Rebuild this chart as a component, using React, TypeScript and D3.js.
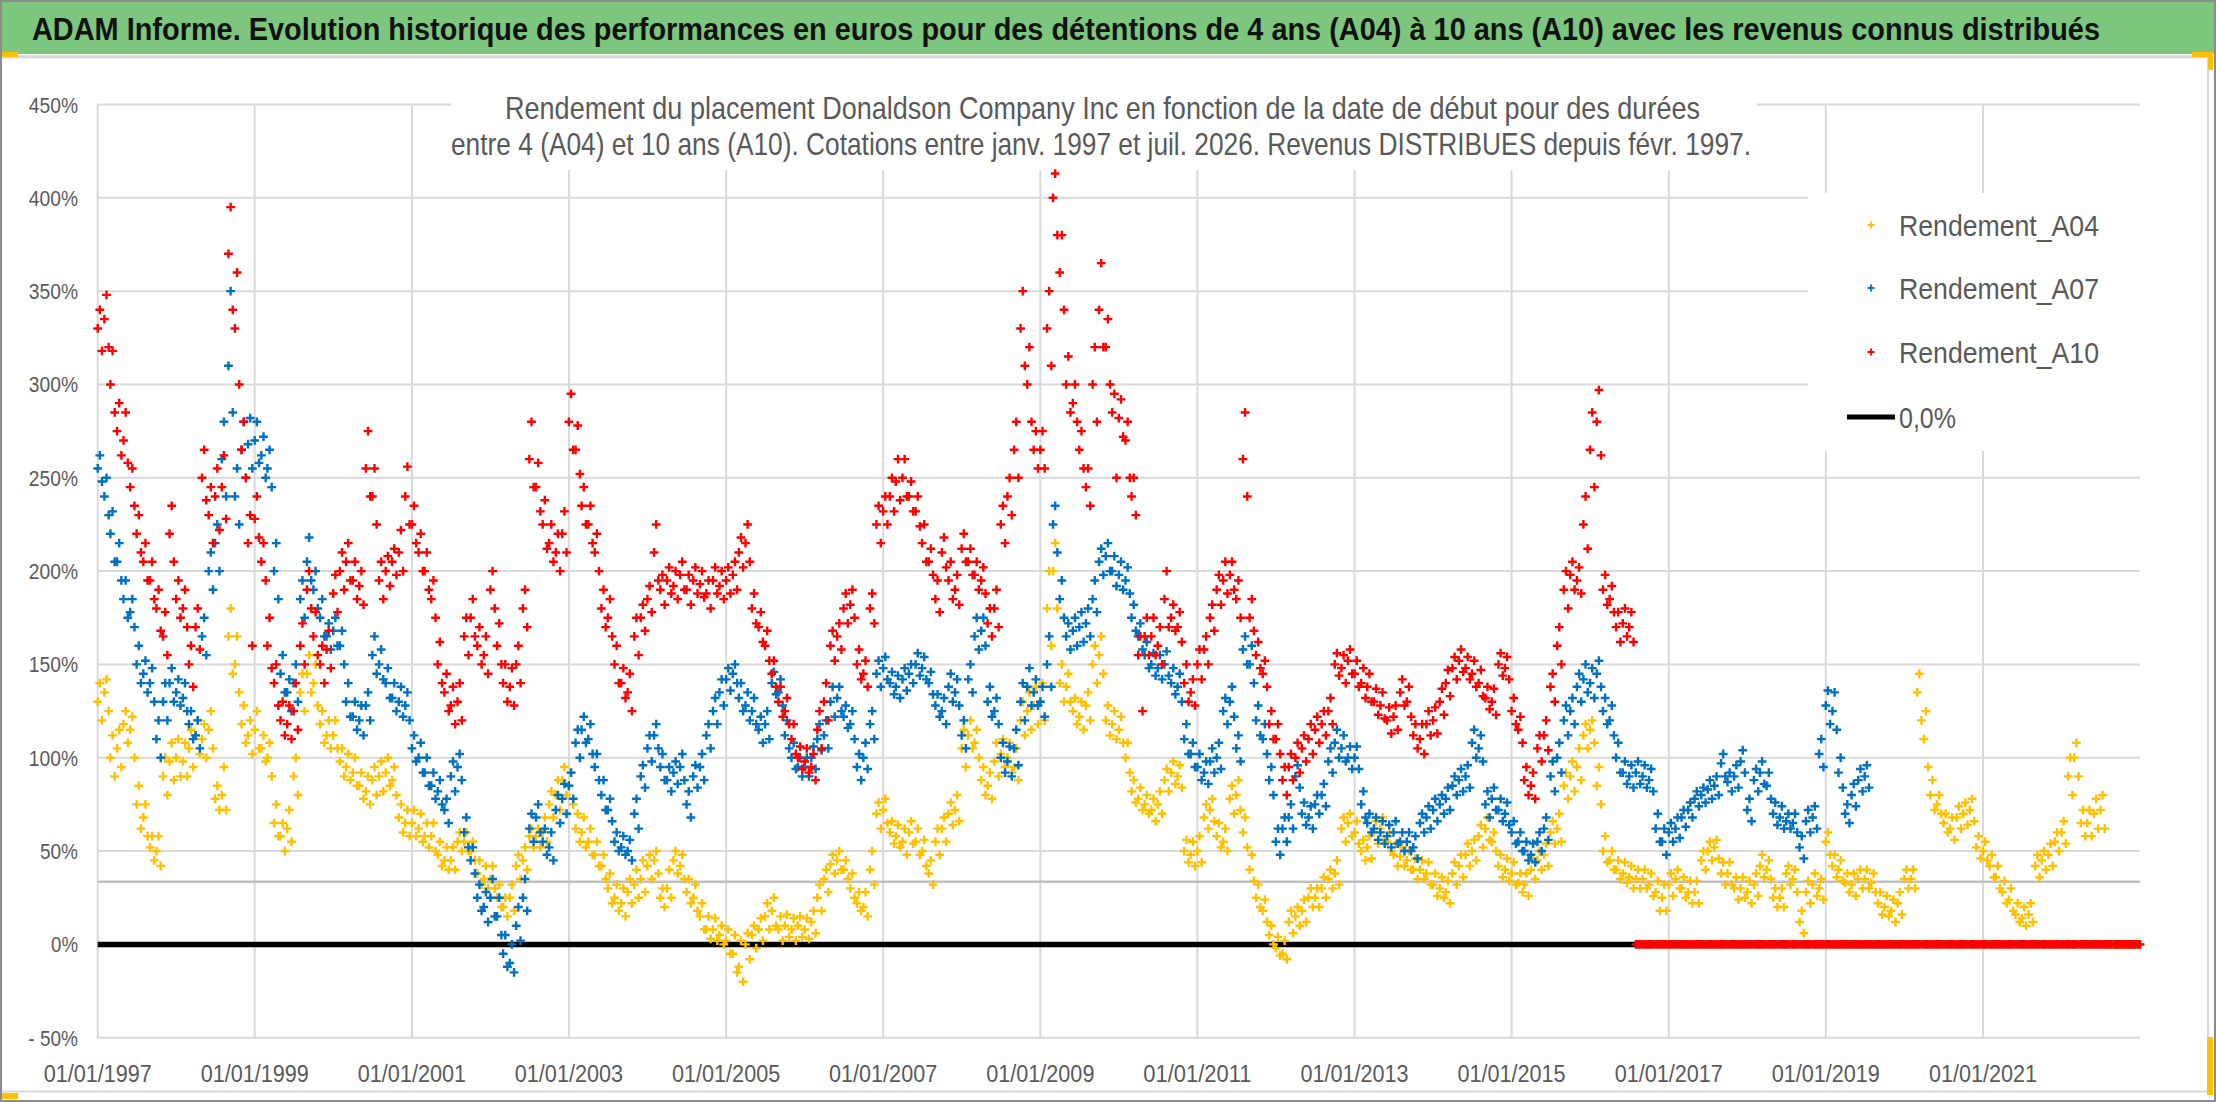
import React from 'react';
import * as d3 from 'd3';

// ---------- DATA (monthly readings, first value = January of START_YEAR) ----------
const START_YEAR = 1997;

// Rendement_A04 (yellow): typical level of the cloud each month
const a04Monthly: number[] = [
  130, 135, 100, 105, 118, 115, 75, 68, 52, 50, 90, 98, // 1997
  100, 98, 105, 112, 110, 115, 78, 80, 165, 150, 118, 112, // 1998
  115, 105, 100, 65, 58, 62, 90, 135, 145, 140, 118, 112, // 1999
  112, 98, 95, 92, 85, 82, 88, 90, 92, 88, 68, 65, // 2000
  65, 62, 58, 58, 48, 45, 45, 55, 55, 50, 38, 35, // 2001
  35, 25, 20, 25, 42, 45, 58, 58, 60, 75, 80, 88, // 2002
  85, 62, 60, 55, 48, 42, 30, 25, 22, 28, 32, 35, // 2003
  42, 45, 25, 30, 45, 42, 28, 25, 15, 8, 8, 5, // 2004
  2, -5, -12, 0, 5, 8, 15, 18, 8, 10, 8, 10, // 2005
  8, 12, 25, 35, 43, 45, 40, 30, 22, 20, 40, 70, // 2006
  72, 60, 58, 55, 60, 55, 50, 38, 55, 62, 70, 72, // 2007
  105, 112, 108, 88, 85, 98, 102, 100, 95, 120, 125, 128, // 2008
  130, 180, 200, 140, 138, 125, 122, 128, 150, 155, 120, 118, // 2009
  115, 100, 82, 78, 75, 72, 75, 88, 92, 90, 50, 48, // 2010
  50, 68, 72, 58, 55, 78, 80, 60, 40, 25, 18, 5, // 2011
  -2, -5, 12, 15, 18, 25, 25, 30, 35, 38, 62, 65, // 2012
  60, 50, 52, 60, 62, 55, 48, 47, 45, 40, 40, 38, // 2013
  32, 30, 28, 38, 42, 48, 50, 58, 62, 55, 42, 40, // 2014
  38, 33, 32, 40, 45, 48, 60, 62, 85, 90, 95, 112, // 2015
  115, 85, 50, 45, 40, 38, 36, 35, 35, 32, 28, 25, // 2016
  32, 35, 30, 28, 28, 45, 50, 52, 38, 38, 30, 30, // 2017
  28, 32, 42, 40, 25, 25, 38, 35, 12, 28, 32, 30, // 2018
  55, 42, 40, 33, 32, 35, 35, 33, 22, 20, 18, 22, // 2019
  35, 35, 135, 110, 80, 75, 65, 62, 68, 70, 72, 52, // 2020
  50, 42, 36, 28, 24, 16, 14, 16, 42, 45, 48, 55, // 2021
  60, 90, 100, 65, 65, 70, 72, 0, 0, 0, 0, 0, // 2022
  0, // 2023
];
// upper edge of the A04 cloud each month
const a04High: number[] = [
  140, 142, 112, 115, 125, 122, 85, 75, 58, 58, 100, 108, // 1997
  110, 108, 115, 120, 118, 125, 85, 95, 180, 165, 128, 120, // 1998
  125, 112, 108, 75, 65, 72, 100, 145, 155, 150, 125, 120, // 1999
  120, 105, 102, 100, 92, 90, 95, 98, 100, 95, 75, 72, // 2000
  72, 70, 65, 65, 55, 52, 52, 60, 60, 55, 45, 42, // 2001
  42, 32, 25, 32, 48, 52, 62, 62, 68, 82, 88, 95, // 2002
  92, 70, 68, 62, 55, 48, 38, 32, 30, 35, 40, 45, // 2003
  48, 50, 30, 40, 50, 48, 35, 32, 22, 15, 14, 10, // 2004
  8, 5, 2, 6, 10, 14, 22, 25, 15, 16, 14, 15, // 2005
  14, 18, 32, 40, 48, 50, 45, 38, 28, 28, 50, 76, // 2006
  78, 66, 64, 62, 66, 62, 56, 45, 62, 68, 76, 80, // 2007
  115, 120, 115, 95, 92, 108, 110, 108, 105, 130, 135, 138, // 2008
  140, 200, 215, 150, 145, 132, 130, 135, 160, 165, 128, 125, // 2009
  122, 108, 88, 84, 80, 78, 82, 94, 98, 96, 56, 55, // 2010
  58, 75, 78, 65, 62, 85, 88, 68, 48, 32, 24, 10, // 2011
  4, 2, 18, 20, 24, 30, 30, 36, 40, 45, 68, 70, // 2012
  66, 56, 58, 66, 68, 60, 54, 52, 50, 46, 45, 44, // 2013
  38, 36, 34, 44, 48, 54, 56, 64, 68, 60, 48, 46, // 2014
  44, 38, 38, 46, 50, 54, 66, 70, 92, 98, 105, 118, // 2015
  120, 95, 58, 50, 45, 44, 42, 40, 40, 38, 34, 32, // 2016
  38, 40, 36, 34, 34, 50, 55, 56, 44, 44, 36, 36, // 2017
  34, 38, 48, 45, 30, 30, 42, 40, 18, 34, 38, 35, // 2018
  60, 48, 45, 38, 38, 40, 40, 38, 28, 26, 24, 28, // 2019
  40, 40, 145, 125, 88, 80, 70, 68, 74, 76, 78, 58, // 2020
  55, 48, 42, 34, 30, 22, 20, 22, 48, 50, 54, 60, // 2021
  66, 100, 108, 72, 72, 78, 80, 0, 0, 0, 0, 0, // 2022
];
// lower edge of the A04 cloud each month
const a04Low: number[] = [
  120, 125, 90, 95, 108, 100, 62, 58, 45, 42, 80, 88, // 1997
  90, 90, 95, 102, 100, 105, 72, 72, 145, 135, 108, 102, // 1998
  105, 98, 90, 58, 50, 55, 80, 125, 135, 128, 108, 105, // 1999
  105, 90, 88, 85, 78, 75, 80, 82, 85, 80, 60, 58, // 2000
  58, 55, 52, 50, 42, 40, 40, 50, 50, 45, 32, 30, // 2001
  30, 20, 15, 18, 35, 40, 52, 52, 55, 68, 72, 80, // 2002
  75, 55, 52, 48, 42, 35, 22, 18, 15, 22, 25, 28, // 2003
  35, 38, 20, 25, 38, 35, 22, 18, 8, 3, 2, 0, // 2004
  -5, -15, -20, -8, -2, 2, 8, 10, 2, 4, 2, 4, // 2005
  3, 6, 18, 28, 38, 40, 35, 25, 18, 15, 32, 62, // 2006
  65, 54, 52, 48, 54, 48, 42, 32, 48, 55, 64, 66, // 2007
  95, 105, 100, 80, 78, 90, 95, 92, 88, 112, 115, 118, // 2008
  120, 160, 180, 130, 130, 118, 115, 120, 140, 145, 112, 110, // 2009
  108, 92, 76, 72, 70, 66, 70, 82, 86, 84, 44, 42, // 2010
  44, 62, 66, 52, 50, 70, 72, 52, 34, 20, 12, 0, // 2011
  -6, -8, 6, 10, 12, 20, 20, 25, 30, 32, 55, 58, // 2012
  54, 45, 46, 54, 56, 50, 42, 42, 40, 35, 35, 32, // 2013
  26, 25, 22, 32, 36, 42, 45, 52, 56, 50, 36, 34, // 2014
  32, 28, 26, 35, 40, 42, 54, 55, 78, 82, 88, 105, // 2015
  108, 75, 44, 40, 35, 33, 30, 30, 30, 26, 18, 18, // 2016
  26, 30, 25, 22, 22, 40, 45, 46, 32, 32, 24, 25, // 2017
  22, 26, 36, 35, 20, 20, 32, 28, 6, 22, 26, 24, // 2018
  48, 36, 34, 28, 26, 30, 30, 28, 16, 15, 12, 16, // 2019
  30, 30, 120, 95, 72, 70, 60, 56, 62, 64, 66, 46, // 2020
  45, 36, 30, 22, 18, 12, 10, 12, 36, 40, 42, 50, // 2021
  54, 80, 90, 58, 58, 62, 62, 0, 0, 0, 0, 0, // 2022
];

// Rendement_A07 (blue)
const a07Monthly: number[] = [
  255, 240, 220, 205, 185, 178, 150, 145, 140, 110, 130, 140, // 1997
  135, 132, 118, 112, 165, 200, 215, 260, 310, 240, 265, 268, // 1998
  270, 262, 255, 200, 145, 135, 140, 185, 205, 190, 175, 165, // 1999
  168, 160, 130, 122, 120, 128, 155, 150, 140, 132, 130, 128, // 2000
  105, 100, 92, 85, 82, 72, 90, 95, 60, 45, 25, 20, // 2001
  25, 15, -5, -10, 10, 25, 62, 68, 55, 52, 72, 78, // 2002
  85, 108, 115, 110, 95, 80, 72, 55, 52, 50, 70, 90, // 2003
  105, 112, 95, 88, 92, 95, 75, 90, 95, 112, 125, 135, // 2004
  142, 145, 132, 128, 125, 115, 118, 140, 135, 112, 100, 95, // 2005
  95, 100, 110, 112, 130, 132, 122, 118, 95, 100, 118, 145, // 2006
  148, 140, 138, 142, 145, 150, 148, 140, 128, 125, 138, 135, // 2007
  112, 142, 165, 168, 130, 125, 100, 98, 105, 130, 138, 135, // 2008
  130, 150, 225, 185, 165, 168, 170, 172, 185, 205, 208, 200, // 2009
  198, 195, 175, 165, 155, 150, 148, 150, 140, 138, 110, 102, // 2010
  95, 92, 98, 100, 125, 130, 105, 158, 150, 120, 110, 88, // 2011
  55, 62, 68, 90, 70, 68, 75, 80, 98, 108, 105, 100, // 2012
  100, 75, 65, 62, 60, 58, 60, 55, 55, 52, 65, 68, // 2013
  72, 75, 78, 85, 88, 90, 108, 105, 75, 78, 72, 70, // 2014
  60, 55, 50, 48, 55, 62, 90, 100, 120, 125, 138, 142, // 2015
  140, 145, 125, 120, 100, 92, 90, 92, 90, 88, 62, 55, // 2016
  60, 62, 68, 72, 78, 80, 83, 85, 97, 87, 90, 98, // 2017
  72, 88, 92, 85, 70, 68, 66, 65, 52, 66, 68, 102, // 2018
  128, 125, 92, 70, 80, 88, 90, // 2019
];
const a07High: number[] = [
  262, 250, 232, 215, 195, 185, 160, 152, 148, 120, 140, 148, // 1997
  142, 140, 125, 120, 175, 210, 225, 280, 350, 255, 280, 282, // 1998
  280, 272, 265, 215, 155, 142, 150, 195, 218, 200, 185, 172, // 1999
  175, 168, 140, 130, 128, 135, 165, 158, 148, 140, 138, 135, // 2000
  112, 108, 100, 92, 88, 78, 98, 102, 68, 52, 32, 28, // 2001
  35, 25, 5, 0, 20, 35, 70, 75, 62, 60, 80, 86, // 2002
  92, 115, 122, 118, 102, 88, 78, 60, 58, 56, 78, 96, // 2003
  112, 118, 102, 95, 98, 102, 82, 96, 102, 118, 132, 142, // 2004
  148, 150, 140, 135, 132, 122, 125, 146, 142, 120, 108, 100, // 2005
  100, 106, 118, 120, 138, 138, 128, 125, 102, 108, 125, 152, // 2006
  154, 146, 144, 148, 150, 156, 154, 146, 134, 132, 145, 142, // 2007
  120, 150, 175, 175, 138, 132, 108, 106, 115, 140, 148, 142, // 2008
  138, 165, 235, 195, 172, 175, 178, 180, 195, 212, 215, 208, // 2009
  205, 202, 182, 172, 162, 156, 155, 157, 148, 145, 118, 108, // 2010
  102, 98, 105, 108, 132, 138, 112, 165, 160, 128, 118, 95, // 2011
  62, 68, 75, 96, 76, 74, 80, 86, 105, 115, 112, 106, // 2012
  106, 82, 70, 68, 66, 64, 66, 60, 60, 58, 70, 74, // 2013
  78, 80, 84, 90, 94, 96, 115, 112, 82, 84, 78, 76, // 2014
  66, 60, 55, 54, 60, 68, 98, 108, 128, 132, 145, 150, // 2015
  148, 152, 132, 128, 108, 98, 96, 98, 96, 94, 70, 62, // 2016
  65, 68, 72, 76, 82, 84, 88, 90, 102, 92, 96, 104, // 2017
  78, 94, 98, 92, 76, 74, 70, 70, 58, 72, 74, 110, // 2018
  136, 135, 100, 75, 86, 94, 96, // 2019
];
const a07Low: number[] = [
  248, 230, 205, 195, 175, 170, 140, 135, 130, 100, 120, 130, // 1997
  128, 125, 110, 105, 155, 190, 200, 240, 285, 225, 250, 255, // 1998
  258, 250, 245, 185, 135, 125, 130, 175, 195, 180, 165, 158, // 1999
  160, 150, 122, 115, 112, 120, 145, 142, 132, 125, 122, 120, // 2000
  98, 92, 85, 78, 75, 65, 82, 88, 52, 38, 18, 12, // 2001
  15, 5, -12, -15, 2, 18, 55, 60, 48, 45, 65, 70, // 2002
  78, 100, 108, 102, 88, 72, 66, 50, 48, 45, 62, 84, // 2003
  98, 105, 88, 82, 86, 88, 68, 84, 88, 105, 118, 128, // 2004
  136, 140, 125, 120, 118, 108, 110, 134, 128, 105, 94, 90, // 2005
  90, 94, 104, 105, 122, 125, 116, 110, 88, 94, 110, 138, // 2006
  142, 134, 132, 136, 140, 144, 142, 134, 122, 118, 130, 128, // 2007
  105, 135, 158, 160, 122, 118, 92, 90, 96, 120, 128, 128, // 2008
  122, 138, 210, 175, 158, 160, 162, 165, 178, 198, 200, 192, // 2009
  190, 188, 168, 158, 148, 144, 142, 144, 134, 130, 102, 95, // 2010
  88, 86, 92, 94, 118, 122, 98, 150, 140, 112, 102, 80, // 2011
  48, 55, 62, 84, 64, 62, 70, 74, 92, 100, 98, 94, // 2012
  94, 68, 60, 56, 54, 52, 54, 50, 50, 46, 60, 62, // 2013
  66, 70, 72, 80, 82, 84, 100, 98, 68, 72, 66, 64, // 2014
  54, 50, 45, 44, 50, 56, 82, 92, 112, 118, 130, 135, // 2015
  132, 138, 118, 112, 92, 86, 84, 86, 84, 82, 55, 48, // 2016
  55, 57, 63, 68, 74, 76, 78, 80, 90, 82, 84, 92, // 2017
  66, 82, 86, 78, 64, 62, 62, 60, 46, 60, 62, 95, // 2018
  118, 115, 84, 65, 74, 82, 84, // 2019
];

// Rendement_A10 (red); zeros once the 10-year horizon is not reached
const a10Monthly: number[] = [
  330, 335, 300, 275, 270, 245, 220, 205, 195, 180, 165, 220, // 1997
  185, 180, 150, 170, 250, 230, 240, 245, 370, 330, 265, 215, // 1998
  228, 205, 160, 140, 120, 118, 125, 160, 190, 165, 150, 158, // 1999
  188, 200, 205, 195, 192, 255, 240, 195, 200, 205, 210, 240, // 2000
  225, 210, 200, 185, 150, 135, 128, 130, 165, 175, 160, 155, // 2001
  190, 160, 140, 138, 150, 180, 260, 245, 225, 215, 210, 220, // 2002
  280, 265, 235, 225, 210, 180, 175, 150, 140, 135, 165, 175, // 2003
  185, 210, 190, 195, 192, 198, 190, 195, 193, 188, 195, 192, // 2004
  195, 198, 210, 215, 180, 170, 160, 145, 130, 125, 110, 100, // 2005
  98, 95, 115, 130, 160, 165, 180, 182, 150, 145, 180, 225, // 2006
  232, 240, 248, 250, 240, 232, 215, 205, 185, 210, 195, 190, // 2007
  212, 205, 198, 195, 172, 180, 225, 240, 265, 330, 300, 265, // 2008
  265, 330, 400, 360, 300, 290, 265, 245, 300, 340, 320, 285, // 2009
  282, 270, 240, 155, 165, 165, 160, 185, 175, 170, 140, 135, // 2010
  150, 158, 175, 190, 195, 198, 185, 260, 175, 155, 145, 118, // 2011
  110, 88, 95, 100, 105, 110, 115, 118, 125, 150, 148, 152, // 2012
  145, 140, 138, 130, 128, 120, 122, 135, 130, 112, 110, 118, // 2013
  120, 130, 140, 148, 152, 148, 145, 140, 132, 130, 150, 148, // 2014
  125, 115, 88, 85, 105, 112, 138, 160, 190, 198, 195, 225, // 2015
  265, 280, 190, 185, 170, 172, 170, 0, 0, 0, 0, 0, // 2016
  0, 0, 0, 0, 0, 0, 0, 0, 0, 0, 0, 0, // 2017
  0, 0, 0, 0, 0, 0, 0, 0, 0, 0, 0, 0, // 2018
  0, 0, 0, 0, 0, 0, 0, 0, 0, 0, 0, 0, // 2019
  0, 0, 0, 0, 0, 0, 0, 0, 0, 0, 0, 0, // 2020
  0, 0, 0, 0, 0, 0, 0, 0, 0, 0, 0, 0, // 2021
  0, 0, 0, 0, 0, 0, 0, 0, 0, 0, 0, 0, // 2022
  0, // 2023
];
const a10High: number[] = [
  340, 348, 318, 290, 285, 255, 230, 215, 205, 190, 178, 235, // 1997
  195, 190, 160, 180, 265, 245, 255, 262, 395, 360, 280, 230, // 1998
  240, 215, 175, 150, 130, 128, 140, 172, 200, 178, 160, 168, // 1999
  198, 210, 215, 205, 200, 275, 255, 205, 208, 212, 222, 256, // 2000
  235, 220, 210, 195, 162, 145, 138, 140, 175, 185, 170, 165, // 2001
  200, 172, 150, 148, 160, 190, 280, 258, 238, 225, 220, 232, // 2002
  295, 278, 245, 235, 220, 190, 185, 160, 148, 145, 175, 182, // 2003
  192, 225, 198, 202, 200, 205, 198, 202, 200, 195, 202, 200, // 2004
  202, 205, 218, 225, 188, 178, 168, 152, 138, 132, 118, 106, // 2005
  105, 102, 125, 140, 168, 172, 188, 190, 158, 152, 188, 235, // 2006
  240, 250, 260, 260, 248, 240, 225, 212, 195, 218, 205, 198, // 2007
  220, 212, 205, 202, 180, 190, 235, 250, 280, 350, 320, 275, // 2008
  275, 350, 413, 380, 315, 300, 275, 255, 320, 365, 335, 295, // 2009
  292, 280, 250, 165, 175, 175, 170, 200, 182, 178, 150, 142, // 2010
  158, 165, 182, 198, 205, 205, 195, 285, 185, 162, 152, 125, // 2011
  118, 95, 102, 108, 112, 118, 122, 125, 132, 156, 155, 158, // 2012
  152, 148, 145, 137, 135, 127, 128, 142, 138, 118, 118, 125, // 2013
  127, 137, 147, 154, 158, 154, 152, 147, 138, 137, 156, 154, // 2014
  132, 122, 95, 92, 112, 120, 145, 170, 200, 205, 202, 240, // 2015
  285, 297, 198, 192, 178, 180, 178, 0, 0, 0, 0, 0, // 2016
  0, 0, 0, 0, 0, 0, 0, 0, 0, 0, 0, 0, // 2017
  0, 0, 0, 0, 0, 0, 0, 0, 0, 0, 0, 0, // 2018
  0, 0, 0, 0, 0, 0, 0, 0, 0, 0, 0, 0, // 2019
  0, 0, 0, 0, 0, 0, 0, 0, 0, 0, 0, 0, // 2020
  0, 0, 0, 0, 0, 0, 0, 0, 0, 0, 0, 0, // 2021
  0, 0, 0, 0, 0, 0, 0, 0, 0, 0, 0, 0, // 2022
];
const a10Low: number[] = [
  318, 320, 285, 262, 258, 235, 210, 195, 185, 168, 155, 205, // 1997
  175, 170, 138, 158, 238, 215, 222, 228, 340, 300, 250, 160, // 1998
  218, 195, 148, 128, 112, 110, 115, 150, 180, 155, 140, 148, // 1999
  178, 190, 195, 185, 182, 240, 225, 185, 192, 198, 200, 225, // 2000
  215, 200, 190, 175, 140, 125, 118, 120, 155, 165, 150, 145, // 2001
  180, 150, 130, 128, 140, 170, 245, 232, 212, 205, 200, 210, // 2002
  265, 252, 225, 215, 200, 170, 165, 140, 132, 125, 155, 168, // 2003
  178, 195, 182, 188, 185, 190, 182, 188, 186, 180, 188, 185, // 2004
  188, 190, 202, 205, 172, 162, 152, 138, 122, 118, 102, 94, // 2005
  92, 88, 105, 120, 152, 158, 172, 175, 142, 138, 172, 215, // 2006
  225, 232, 238, 240, 232, 224, 205, 198, 178, 202, 185, 182, // 2007
  205, 198, 190, 188, 165, 170, 215, 230, 250, 310, 280, 255, // 2008
  255, 310, 380, 340, 285, 280, 255, 235, 280, 320, 300, 250, // 2009
  272, 250, 230, 125, 155, 155, 150, 170, 168, 162, 130, 128, // 2010
  142, 150, 168, 182, 188, 190, 175, 240, 168, 148, 138, 110, // 2011
  102, 80, 88, 92, 98, 102, 108, 112, 118, 144, 140, 145, // 2012
  138, 132, 130, 123, 121, 113, 115, 128, 122, 105, 102, 112, // 2013
  113, 123, 133, 142, 146, 142, 138, 133, 126, 123, 144, 142, // 2014
  118, 108, 80, 78, 98, 104, 130, 150, 180, 190, 188, 212, // 2015
  245, 262, 182, 178, 162, 165, 162, 0, 0, 0, 0, 0, // 2016
  0, 0, 0, 0, 0, 0, 0, 0, 0, 0, 0, 0, // 2017
  0, 0, 0, 0, 0, 0, 0, 0, 0, 0, 0, 0, // 2018
  0, 0, 0, 0, 0, 0, 0, 0, 0, 0, 0, 0, // 2019
  0, 0, 0, 0, 0, 0, 0, 0, 0, 0, 0, 0, // 2020
  0, 0, 0, 0, 0, 0, 0, 0, 0, 0, 0, 0, // 2021
  0, 0, 0, 0, 0, 0, 0, 0, 0, 0, 0, 0, // 2022
];

const yTickValues = [-50, 0, 50, 100, 150, 200, 250, 300, 350, 400, 450];
const xTickYears = [1997, 1999, 2001, 2003, 2005, 2007, 2009, 2011, 2013, 2015, 2017, 2019, 2021];
const zeroLineValue = 0;
const greyLineValue = 33.5;

const titleText =
  'ADAM Informe. Evolution historique des performances en euros pour des détentions de 4 ans (A04) à 10 ans (A10) avec les revenus connus distribués';
const subtitleLines = [
  'Rendement du placement Donaldson Company Inc en fonction de la date de début pour des durées',
  'entre 4 (A04) et 10 ans (A10). Cotations entre janv. 1997 et juil. 2026. Revenus DISTRIBUES depuis févr. 1997.',
];
const seriesNames = ['Rendement_A04', 'Rendement_A07', 'Rendement_A10'];
const zeroLineName = '0,0%';
const seriesColors = ['#FFC000', '#0070C0', '#FF0000'];

// ---------- LAYOUT ----------
const W = 2216;
const H = 1102;
const PLOT = { left: 97.7, right: 2140, top: 104.5, bottom: 1037.7 };
const FONT = "'Liberation Sans Narrow', 'Liberation Sans', Arial, sans-serif";
const GRID = '#D9D9D9';
const TXT = '#595959';

// Calibri-like advance widths (em) used to size tick labels via textLength
const CAL: Record<string, number> = {
  '0': 0.507, '1': 0.507, '2': 0.507, '3': 0.507, '4': 0.507, '5': 0.507, '6': 0.507,
  '7': 0.507, '8': 0.507, '9': 0.507, '%': 0.715, '/': 0.386, '-': 0.306, ' ': 0.226, ',': 0.25,
};
const calWidth = (s: string, em: number) =>
  s.split('').reduce((acc, c) => acc + (CAL[c] ?? 0.5), 0) * em;

const fmtPct = (v: number) => (v < 0 ? `- ${Math.abs(v)}%` : `${v}%`);
const fmtDate = (y: number) => `01/01/${y}`;

const x = d3
  .scaleTime()
  .domain([new Date(1997, 0, 1), new Date(2023, 0, 1)])
  .range([PLOT.left, PLOT.right]);
const y = d3.scaleLinear().domain([-50, 450]).range([PLOT.bottom, PLOT.top]);

type Pt = { date: Date; v: number };
// each month: cloud edges read mid-month, typical level at start of month
const toPoints = (mid: number[], hi: number[], lo: number[]): Pt[] => {
  const pts: Pt[] = [];
  hi.forEach((v, i) => pts.push({ date: new Date(START_YEAR, i, 11), v }));
  lo.forEach((v, i) => pts.push({ date: new Date(START_YEAR, i, 21), v }));
  mid.forEach((v, i) => pts.push({ date: new Date(START_YEAR, i, 1), v }));
  return pts;
};

const plus = (h: number) => `M${-h},0H${h}M0,${-h}V${h}`;

export default function App() {
  const series = [
    toPoints(a04Monthly, a04High, a04Low),
    toPoints(a07Monthly, a07High, a07Low),
    toPoints(a10Monthly, a10High, a10Low),
  ];
  const legendRows = [225, 288, 352];

  return (
    <svg
      width={W}
      height={H}
      viewBox={`0 0 ${W} ${H}`}
      style={{ position: 'fixed', left: 0, top: 0, background: '#fff' }}
      fontFamily={FONT}
    >
      <rect x={0} y={0} width={W} height={H} fill="#ffffff" />
      {/* title bar */}
      <rect x={0} y={0} width={W} height={54} fill="#7DC67E" />
      <line x1={0} x2={W} y1={56.5} y2={56.5} stroke="#D0D0D0" strokeWidth={2} />
      <text
        x={32}
        y={40}
        fontSize={32}
        fontWeight="bold"
        fill="#111"
        textLength={2068}
        lengthAdjust="spacingAndGlyphs"
      >
        {titleText}
      </text>

      {/* chart area frame */}
      <rect x={1} y={57.5} width={2207} height={1034} fill="#fff" stroke="#D9D9D9" strokeWidth={2} />

      {/* horizontal gridlines */}
      {yTickValues.map((t) => (
        <line key={'h' + t} x1={PLOT.left} x2={PLOT.right} y1={y(t)} y2={y(t)} stroke={GRID} strokeWidth={2} />
      ))}
      {/* vertical gridlines */}
      {xTickYears.map((yr) => {
        const xx = x(new Date(yr, 0, 1));
        return <line key={'v' + yr} x1={xx} x2={xx} y1={PLOT.top} y2={PLOT.bottom} stroke={GRID} strokeWidth={2} />;
      })}

      {/* subtitle and legend backgrounds */}
      <rect x={451} y={80} width={1306} height={90} fill="#fff" />
      <rect x={1808} y={193} width={332} height={258} fill="#fff" />

      {/* y tick labels */}
      {yTickValues.map((t) => {
        const s = fmtPct(t);
        return (
          <text
            key={'yl' + t}
            x={78}
            y={y(t) + 8}
            fontSize={22}
            fill={TXT}
            textAnchor="end"
            textLength={calWidth(s, 22)}
            lengthAdjust="spacingAndGlyphs"
          >
            {s}
          </text>
        );
      })}
      {/* x tick labels */}
      {xTickYears.map((yr) => {
        const s = fmtDate(yr);
        return (
          <text
            key={'xl' + yr}
            x={x(new Date(yr, 0, 1))}
            y={1082}
            fontSize={23}
            fill={TXT}
            textAnchor="middle"
            textLength={calWidth(s, 22.4)}
            lengthAdjust="spacingAndGlyphs"
          >
            {s}
          </text>
        );
      })}

      {/* grey reference line */}
      <line
        x1={PLOT.left}
        x2={PLOT.right}
        y1={y(greyLineValue)}
        y2={y(greyLineValue)}
        stroke="#BFBFBF"
        strokeWidth={2.5}
      />
      {/* 0% line */}
      <line
        x1={PLOT.left}
        x2={PLOT.right}
        y1={y(zeroLineValue)}
        y2={y(zeroLineValue)}
        stroke="#000"
        strokeWidth={5.5}
      />

      {/* series markers */}
      {series.map((pts, si) => (
        <g key={'s' + si} stroke={seriesColors[si]} strokeWidth={2.4} fill="none">
          {pts.map((p, i) => (
            <path key={i} d={plus(4.4)} transform={`translate(${x(p.date)},${y(p.v)})`} />
          ))}
        </g>
      ))}

      {/* subtitle */}
      <text x={505} y={119} fontSize={32} fill={TXT} textLength={1195} lengthAdjust="spacingAndGlyphs">
        {subtitleLines[0]}
      </text>
      <text x={451} y={155} fontSize={32} fill={TXT} textLength={1300} lengthAdjust="spacingAndGlyphs">
        {subtitleLines[1]}
      </text>

      {/* legend */}
      {seriesNames.map((n, i) => (
        <g key={'lg' + i}>
          <path
            d={plus(3.5)}
            transform={`translate(1871,${legendRows[i]})`}
            stroke={seriesColors[i]}
            strokeWidth={1.8}
          />
          <text
            x={1899}
            y={legendRows[i] + 10.5}
            fontSize={30}
            fill={TXT}
            textLength={200}
            lengthAdjust="spacingAndGlyphs"
          >
            {n}
          </text>
        </g>
      ))}
      <line x1={1847} x2={1895} y1={417} y2={417} stroke="#000" strokeWidth={5} />
      <text x={1899} y={427.5} fontSize={30} fill={TXT} textLength={57} lengthAdjust="spacingAndGlyphs">
        {zeroLineName}
      </text>

      {/* selection handles */}
      <rect x={0} y={52} width={18} height={5} fill="#FFC000" />
      <rect x={2192} y={52} width={21} height={5} fill="#FFC000" />
      <rect x={2208} y={52} width={5} height={18} fill="#FFC000" />
      <rect x={2207} y={1037} width={6} height={58} fill="#FFC000" />
      <rect x={0} y={1093} width={18} height={6} fill="#FFC000" />

      {/* outer border */}
      <rect x={1} y={1} width={W - 2} height={H - 2} fill="none" stroke="#8C8C8C" strokeWidth={2} />
    </svg>
  );
}
